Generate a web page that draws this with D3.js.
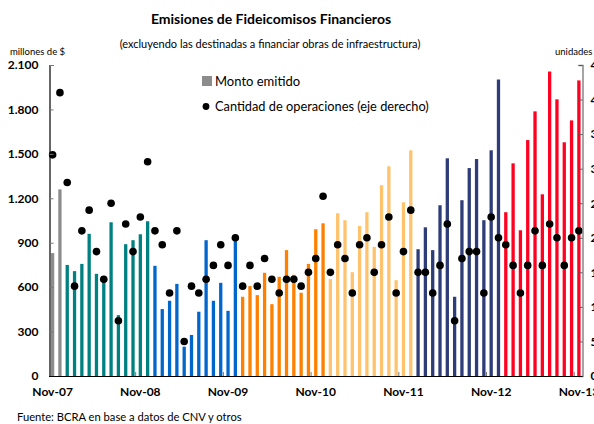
<!DOCTYPE html>
<html>
<head>
<meta charset="utf-8">
<script src="https://cdn.jsdelivr.net/npm/d3@7"></script>
<style>
  body { margin: 0; background: #fff; }
  svg { display: block; font-family: Lato, "Open Sans", sans-serif; }
</style>
</head>
<body>
<div id="app"></div>
<script>
// Monthly issues, Nov-07 .. Nov-13
const monthNames = ['Ene', 'Feb', 'Mar', 'Abr', 'May', 'Jun', 'Jul', 'Ago', 'Sep', 'Oct', 'Nov', 'Dic']

// millones de $
const monto = [
  830, 1260,
  750, 708, 757, 960, 690, 662, 1038, 411, 890, 917, 957, 1045,
  744, 452, 508, 622, 198, 277, 434, 917, 508, 629, 440, 917,
  535, 607, 546, 697, 485, 670, 850, 683, 562, 757, 991, 1031,
  654, 1099, 1052, 701, 1013, 1106, 872, 1288, 1416, 647, 1173, 1524,
  856, 1004, 850, 1153, 1470, 535, 1187, 1404, 1465, 1052, 1524, 2002,
  1106, 1436, 984, 1593, 1787, 1227, 2056, 1868, 1578, 1726, 1996
]

// unidades (eje derecho)
const operaciones = [
  32, 41,
  28, 13, 21, 24, 18, 14, 25, 8, 22, 18, 23, 31,
  21, 19, 12, 21, 5, 13, 12, 14, 16, 19, 16, 20,
  13, 16, 13, 17, 14, 12, 14, 14, 13, 15, 17, 26,
  15, 19, 17, 12, 19, 20, 15, 19, 23, 12, 18, 24,
  15, 15, 12, 16, 22, 8, 17, 18, 18, 12, 23, 20,
  19, 16, 12, 16, 21, 16, 22, 20, 16, 20, 21
]

const yearColors = {
  2007: '#8c8c8c',
  2008: '#008080',
  2009: '#0066cc',
  2010: '#ff8000',
  2011: '#ffc36e',
  2012: '#2e3c78',
  2013: '#ff0020'
}

const leftTicks = [0, 300, 600, 900, 1200, 1500, 1800, 2100]
const rightTicks = [0, 5, 10, 15, 20, 25, 30, 35, 40, 45]

// build the list of months starting at Nov-07
const months = monto.map((v, i) => {
  const m = (10 + i) % 12
  const year = 2007 + Math.floor((10 + i) / 12)
  return { label: `${monthNames[m]}-${String(year).slice(2)}`, year, month: m, monto: v, ops: operaciones[i] }
})

const width = 594
const height = 424
const x0 = 49, x1 = 582.5, yTop = 65, yBottom = 376

const fmt = d3.formatLocale({ decimal: ',', thousands: '.', grouping: [3], currency: ['$', ''] }).format(',')

const svg = d3.select('#app').append('svg')
  .attr('width', width)
  .attr('height', height)

const x = d3.scaleBand()
  .domain(months.map(d => d.label))
  .range([x0, x1])
  .paddingInner(0.55)
  .paddingOuter(0.27)

const y = d3.scaleLinear().domain([0, 2100]).range([yBottom, yTop])
const y2 = d3.scaleLinear().domain([0, 45]).range([yBottom, yTop])

// titles
svg.append('text')
  .attr('x', 271).attr('y', 24)
  .attr('text-anchor', 'middle')
  .attr('font-size', 14).attr('font-weight', 'bold')
  .text('Emisiones de Fideicomisos Financieros')

svg.append('text')
  .attr('x', 270).attr('y', 48)
  .attr('text-anchor', 'middle')
  .attr('font-size', 11)
  .text('(excluyendo las destinadas a financiar obras de infraestructura)')

svg.append('text')
  .attr('x', 10).attr('y', 55)
  .attr('font-size', 9.5)
  .text('millones de $')

svg.append('text')
  .attr('x', 555).attr('y', 55)
  .attr('font-size', 9.5)
  .text('unidades')

// bars
svg.append('g')
  .selectAll('rect').data(months)
  .join('rect')
  .attr('x', d => x(d.label))
  .attr('width', x.bandwidth())
  .attr('y', d => y(d.monto))
  .attr('height', d => y(0) - y(d.monto))
  .attr('fill', d => yearColors[d.year])

// dots
svg.append('g')
  .selectAll('circle').data(months)
  .join('circle')
  .attr('cx', d => x(d.label) + x.bandwidth() / 2)
  .attr('cy', d => y2(d.ops))
  .attr('r', 3.8)
  .attr('fill', '#000')

// left axis
const gLeft = svg.append('g')
  .attr('transform', `translate(${x0 + 0.5},0)`)
  .call(d3.axisLeft(y).tickValues(leftTicks).tickFormat(fmt).tickSize(-4).tickPadding(11))
gLeft.select('.domain').attr('stroke', '#000').attr('stroke-width', 1.2)
gLeft.selectAll('.tick line').attr('stroke', '#777')
gLeft.selectAll('.tick text')
  .attr('font-size', 12).attr('font-weight', 'bold').attr('fill', '#000')
  .attr('font-family', 'Lato, sans-serif')

// right axis (labels run past the edge, as in the original)
const gRight = svg.append('g')
  .attr('transform', `translate(${x1},0)`)
  .call(d3.axisRight(y2).tickValues(rightTicks).tickSize(-4).tickPadding(8))
gRight.select('.domain').attr('stroke', '#888').attr('stroke-width', 1.5)
gRight.selectAll('.tick line').attr('stroke', '#555')
gRight.selectAll('.tick text')
  .attr('font-size', 12).attr('font-weight', 'bold').attr('fill', '#000')
  .attr('font-family', 'Lato, sans-serif')

// bottom axis
const novs = months.filter(d => d.month === 10).map(d => d.label)
svg.append('line')
  .attr('x1', x0).attr('x2', x1)
  .attr('y1', yBottom + 0.5).attr('y2', yBottom + 0.5)
  .attr('stroke', '#000').attr('stroke-width', 1.2)

svg.append('g')
  .selectAll('line').data(novs.slice(1))
  .join('line')
  .attr('x1', d => x(d) - x.step() * x.paddingInner() / 2 - 1)
  .attr('x2', d => x(d) - x.step() * x.paddingInner() / 2 - 1)
  .attr('y1', yBottom).attr('y2', yBottom - 4)
  .attr('stroke', '#777')

svg.append('g')
  .selectAll('text').data(novs)
  .join('text')
  .attr('x', d => x(d) + x.bandwidth() / 2)
  .attr('y', 396)
  .attr('text-anchor', 'middle')
  .attr('font-size', 12).attr('font-weight', 'bold')
  .text(d => d)

// legend
const legend = svg.append('g')
legend.append('rect')
  .attr('x', 202).attr('y', 76).attr('width', 10).attr('height', 10)
  .attr('fill', '#8c8c8c')
legend.append('text')
  .attr('x', 215).attr('y', 85.5)
  .attr('font-size', 13)
  .text('Monto emitido')
legend.append('circle')
  .attr('cx', 206).attr('cy', 106.5).attr('r', 3.4)
legend.append('text')
  .attr('x', 215).attr('y', 111)
  .attr('font-size', 12.8)
  .text('Cantidad de operaciones (eje derecho)')

// source
svg.append('text')
  .attr('x', 17).attr('y', 421)
  .attr('font-size', 11.2)
  .text('Fuente: BCRA en base a datos de CNV y otros')
</script>
</body>
</html>
